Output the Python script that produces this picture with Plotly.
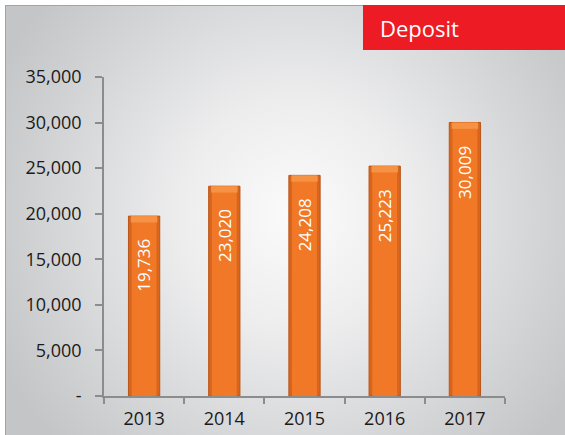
import base64
import plotly.graph_objects as go

years = ["2013", "2014", "2015", "2016", "2017"]
deposits = [19736, 23020, 24208, 25223, 30009]
ytick_vals = [0, 5000, 10000, 15000, 20000, 25000, 30000, 35000]
ytick_text = ["-", "5,000", "10,000", "15,000", "20,000", "25,000", "30,000", "35,000"]
title_text = "Deposit"

W, H = 565, 435
L, R, T, B = 104, 60, 77, 39
PW, PH = W - L - R, H - T - B
CAP = 700  # height of the bevel highlight, in axis units (style only)

svg = f'''<svg xmlns="http://www.w3.org/2000/svg" width="{W}" height="{H}" viewBox="0 0 {W} {H}">
<defs><radialGradient id="g" gradientUnits="userSpaceOnUse" cx="295" cy="215" r="330">
<stop offset="0" stop-color="#fbfbfb"/><stop offset="0.35" stop-color="#ededee"/>
<stop offset="0.75" stop-color="#d3d4d6"/><stop offset="1" stop-color="#c4c5c7"/></radialGradient></defs>
<rect x="0" y="0" width="{W}" height="{H}" fill="#ffffff"/>
<rect x="5.5" y="5.5" width="620" height="500" fill="url(#g)" stroke="#a3a3a3" stroke-width="1"/>
<rect x="363" y="5" width="210" height="45" fill="#ED1C24"/>
</svg>'''
src = "data:image/svg+xml;base64," + base64.b64encode(svg.encode()).decode()

fig = go.Figure()
fig.add_trace(go.Bar(x=years, y=deposits, width=0.39, marker=dict(color="#D9651D", line=dict(color="#B9551A", width=1)),
                     hoverinfo="skip"))
fig.add_trace(go.Bar(x=years, y=deposits, width=0.31, marker=dict(color="#F07826", line=dict(width=0)),
                     hoverinfo="skip"))
fig.add_trace(go.Bar(x=years, y=[CAP] * len(deposits), base=[v - CAP for v in deposits], width=0.33,
                     marker=dict(color="#F59244", line=dict(width=0)), hoverinfo="skip"))

annotations = []
for i, v in enumerate(deposits):
    annotations.append(dict(x=i, y=v, xref="x", yref="y", text=f"{v:,}", textangle=-90,
                            showarrow=False, yanchor="top", yshift=-21,
                            font=dict(family="Open Sans", size=17, color="white")))
annotations.append(dict(xref="paper", yref="paper", x=(378 - L) / PW, y=(396 - 28) / PH,
                        xanchor="left", yanchor="middle", text=title_text, showarrow=False,
                        font=dict(family="Open Sans", size=22, color="white")))

fig.update_layout(
    width=W, height=H, margin=dict(l=L, r=R, t=T, b=B, autoexpand=False),
    barmode="overlay", showlegend=False,
    paper_bgcolor="white", plot_bgcolor="rgba(0,0,0,0)",
    font=dict(family="Open Sans", size=18, color="#1a1a1a"),
    images=[dict(source=src, xref="paper", yref="paper", x=-L / PW, y=1 + T / PH,
                 sizex=W / PW, sizey=H / PH, xanchor="left", yanchor="top",
                 sizing="stretch", layer="below")],
    annotations=annotations,
)
fig.update_xaxes(type="category", range=[-0.5, len(years) - 0.5], showline=True, linecolor="#8c8c8c",
                 linewidth=1.5, ticks="outside", tickson="boundaries", ticklen=6, tickcolor="#8c8c8c",
                 tickwidth=1.5, showgrid=False, ticklabelstandoff=6, automargin=False, tickangle=0)
fig.update_yaxes(range=[0, 35000], tickvals=ytick_vals, ticktext=ytick_text, showline=True,
                 linecolor="#8c8c8c", linewidth=1.5, ticks="outside", ticklen=7, tickcolor="#8c8c8c",
                 tickwidth=1.5, showgrid=False, zeroline=False, ticklabelstandoff=10, automargin=False)

fig.write_html("out.html", config={"displayModeBar": False},
               post_script="document.body.style.margin='0';document.body.style.overflow='hidden';")
